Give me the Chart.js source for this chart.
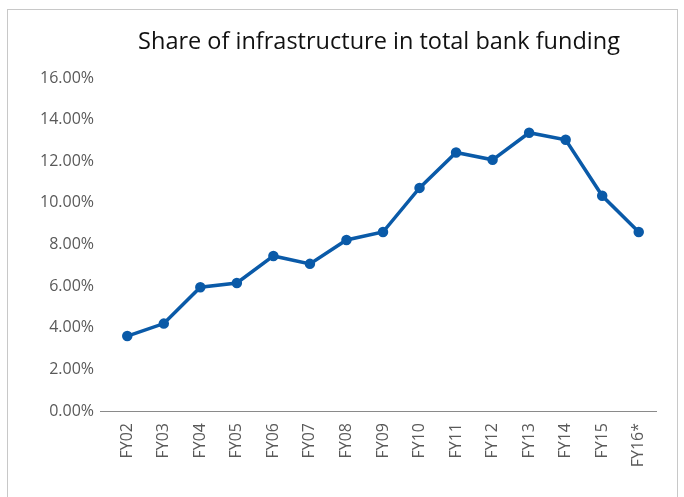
<!DOCTYPE html>
<html><head><meta charset="utf-8">
<script src="https://cdn.jsdelivr.net/npm/chart.js@4"></script>
<style>
html,body{margin:0;padding:0;background:#fff;}
#wrap{position:relative;width:684px;height:497px;}
#frame{position:absolute;left:7px;top:9px;width:671px;height:500px;border:1px solid #c8c8c8;box-sizing:border-box;}
canvas{position:absolute;left:0;top:0;}
</style></head>
<body>
<div id="wrap"><div id="frame"></div><canvas id="c" width="684" height="497"></canvas></div>
<script>
const titleText = "Share of infrastructure in total bank funding";
const categories = ["FY02","FY03","FY04","FY05","FY06","FY07","FY08","FY09","FY10","FY11","FY12","FY13","FY14","FY15","FY16*"];
const shareValues = [3.6, 4.2, 5.95, 6.15, 7.45, 7.07, 8.22, 8.6, 10.72, 12.42, 12.07, 13.37, 13.03, 10.34, 8.6];
const yTicks = {min: 0, max: 16, step: 2};

const FONT = "'Open Sans', 'Noto Sans', sans-serif";
const titlePlugin = {
  id: 'centeredTitle',
  afterDraw(chart) {
    const ctx = chart.ctx, a = chart.chartArea;
    ctx.save();
    ctx.font = "23.5px " + FONT;
    ctx.fillStyle = "#111";
    ctx.textAlign = "center";
    ctx.textBaseline = "middle";
    ctx.fillText(titleText, (a.left + a.right) / 2 - 4, 42);
    ctx.restore();
  }
};
const baselinePlugin = {
  id: 'baseline',
  afterDraw(chart) {
    const ctx = chart.ctx, a = chart.chartArea;
    ctx.save();
    ctx.strokeStyle = "#8a8a8a";
    ctx.lineWidth = 1.2;
    ctx.beginPath();
    ctx.moveTo(100, a.bottom + 0.5);
    ctx.lineTo(a.right, a.bottom + 0.5);
    ctx.stroke();
    ctx.restore();
  }
};

new Chart(document.getElementById('c'), {
  type: 'line',
  data: {
    labels: categories,
    datasets: [{
      data: shareValues,
      borderColor: '#0a5aa8',
      backgroundColor: '#0a5aa8',
      borderWidth: 3.5,
      pointRadius: 3.5,
      pointHoverRadius: 3.5,
      tension: 0,
      fill: false
    }]
  },
  options: {
    responsive: false,
    animation: false,
    layout: {padding: {top: 78, right: 27, bottom: 0, left: 0}},
    plugins: {legend: {display: false}, title: {display: false}, tooltip: {enabled: false}},
    scales: {
      x: {
        offset: true,
        grid: {display: false, drawTicks: false},
        border: {display: false},
        ticks: {color: '#595959', font: {family: FONT, size: 16}, minRotation: 90, maxRotation: 90, padding: 12, autoSkip: false},
        afterFit(s) { s.height = 86; }
      },
      y: {
        min: yTicks.min, max: yTicks.max,
        grid: {display: false, drawTicks: false},
        border: {display: false},
        ticks: {stepSize: yTicks.step, color: '#595959', font: {family: FONT, size: 16}, padding: 15,
          callback: v => v.toFixed(2) + '%'},
        afterFit(s) { s.width = 109; }
      }
    }
  },
  plugins: [titlePlugin, baselinePlugin]
});
</script>
</body></html>
